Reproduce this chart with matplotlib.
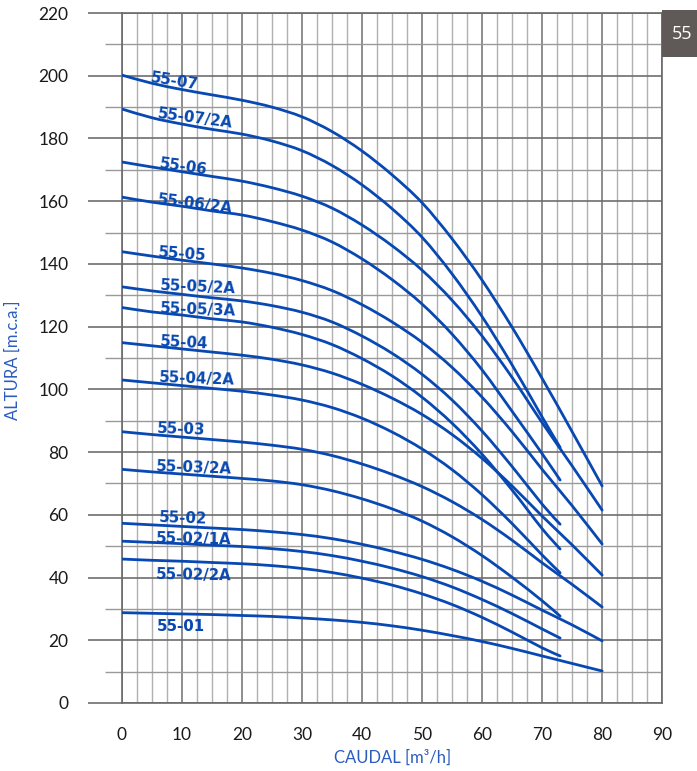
import matplotlib
matplotlib.use("Agg")
import matplotlib.pyplot as plt
import numpy as np
from matplotlib.patches import Rectangle, PathPatch
from matplotlib.path import Path

# caudal points (m3/h)
q_full = [0, 5, 10, 15, 20, 25, 30, 35, 40, 45, 50, 55, 60, 65, 70, 75, 80]
q_short = [0, 5, 10, 15, 20, 25, 30, 35, 40, 45, 50, 55, 60, 65, 70, 73]

# altura (m.c.a.) per model
h_07 = [200.2, 197.6, 195.6, 193.9, 192.2, 190.0, 186.9, 182.2, 176.0, 168.4, 159.5, 148.0, 134.8, 119.8, 103.5, 86.5, 69.2]
h_07_2a = [189.4, 186.6, 184.6, 182.9, 181.4, 179.2, 176.1, 171.4, 165.2, 157.6, 148.5, 136.8, 123.2, 107.8, 91.2, 81.5]
h_06 = [172.5, 170.9, 169.4, 167.9, 166.4, 164.3, 161.6, 157.8, 152.4, 145.8, 138.0, 128.4, 117.0, 103.8, 89.4, 75.6, 61.5]
h_06_2a = [161.3, 159.7, 158.4, 156.9, 155.6, 153.5, 150.8, 147.0, 141.6, 135.0, 127.2, 117.6, 106.2, 93.0, 79.5, 71.1]
h_05 = [143.9, 142.5, 141.2, 140.0, 138.7, 137.0, 134.7, 131.5, 127.0, 121.5, 115.0, 107.0, 97.5, 86.5, 74.5, 62.9, 50.7]
h_05_2a = [132.7, 131.4, 130.3, 129.2, 128.2, 126.7, 124.6, 121.5, 117.0, 111.5, 104.8, 96.6, 86.7, 75.4, 63.4, 57.0]
h_05_3a = [126.1, 124.7, 123.7, 122.5, 121.5, 119.8, 117.5, 114.3, 109.8, 104.3, 97.5, 89.2, 79.3, 67.9, 55.6, 49.1]
h_04 = [114.9, 113.9, 112.9, 111.9, 110.9, 109.6, 107.8, 105.2, 101.6, 97.2, 92.0, 85.6, 78.0, 69.2, 59.6, 50.4, 40.8]
h_04_2a = [103.0, 102.1, 101.2, 100.3, 99.4, 98.2, 96.6, 94.2, 90.8, 86.4, 81.0, 74.4, 66.4, 57.2, 47.2, 41.5]
h_03 = [86.5, 85.6, 84.8, 84.0, 83.2, 82.2, 80.9, 78.9, 76.2, 72.9, 69.0, 64.2, 58.5, 51.9, 44.7, 37.8, 30.6]
h_03_2a = [74.5, 73.7, 73.0, 72.3, 71.6, 70.8, 69.6, 67.7, 65.1, 61.9, 58.0, 53.0, 47.0, 40.1, 32.6, 27.7]
h_02 = [57.3, 56.8, 56.3, 55.8, 55.3, 54.6, 53.7, 52.4, 50.6, 48.4, 45.8, 42.6, 38.8, 34.4, 29.6, 24.9, 19.8]
h_02_1a = [51.6, 51.2, 50.8, 50.3, 49.9, 49.2, 48.3, 47.0, 45.2, 43.0, 40.3, 37.0, 33.0, 28.5, 23.6, 20.7]
h_02_2a = [45.9, 45.5, 45.2, 44.8, 44.4, 43.8, 42.9, 41.6, 39.8, 37.6, 34.8, 31.4, 27.3, 22.6, 17.6, 15.0]
h_01 = [28.8, 28.6, 28.4, 28.2, 27.9, 27.6, 27.1, 26.5, 25.7, 24.6, 23.2, 21.5, 19.6, 17.4, 15.0, 12.6, 10.2]

curves = [
    ("55-07", q_full, h_07), ("55-07/2A", q_short, h_07_2a),
    ("55-06", q_full, h_06), ("55-06/2A", q_short, h_06_2a),
    ("55-05", q_full, h_05), ("55-05/2A", q_short, h_05_2a), ("55-05/3A", q_short, h_05_3a),
    ("55-04", q_full, h_04), ("55-04/2A", q_short, h_04_2a),
    ("55-03", q_full, h_03), ("55-03/2A", q_short, h_03_2a),
    ("55-02", q_full, h_02), ("55-02/1A", q_short, h_02_1a), ("55-02/2A", q_short, h_02_2a),
    ("55-01", q_full, h_01),
]

# label anchor (caudal, altura, angle)
label_pos = {
    "55-07": (8.8, 198.3, -9), "55-07/2A": (12.1, 186.5, -7.5),
    "55-06": (10.2, 170.8, -8), "55-06/2A": (12.1, 159.0, -7),
    "55-05": (10.1, 143.0, -4), "55-05/2A": (12.6, 132.5, -2.5), "55-05/3A": (12.6, 125.3, -2),
    "55-04": (10.4, 114.9, -3), "55-04/2A": (12.4, 103.4, -2),
    "55-03": (9.9, 87.3, -2), "55-03/2A": (12.0, 75.0, -2),
    "55-02": (10.2, 58.9, -2), "55-02/1A": (11.9, 52.3, -1), "55-02/2A": (11.9, 40.8, -1),
    "55-01": (9.8, 24.3, 0),
}

blue = '#0848b2'
label_blue = '#2a5cc0'


def smooth_path(q, h):
    # catmull-rom through the read points, drawn as bezier segments
    p = np.column_stack([q, h]).astype(float)
    n = len(p)
    verts = [p[0]]
    codes = [Path.MOVETO]
    for i in range(n - 1):
        p0 = p[i - 1] if i > 0 else p[i]
        p1, p2 = p[i], p[i + 1]
        p3 = p[i + 2] if i + 2 < n else p[i + 1]
        verts += [p1 + (p2 - p0) / 6, p2 - (p3 - p1) / 6, p2]
        codes += [Path.CURVE4] * 3
    return Path(verts, codes)


fig = plt.figure(figsize=(6.97, 7.71), dpi=100)
ax = fig.add_axes([0.175, 0.0882, 0.775, 0.8949])

for name, q, h in curves:
    ax.add_patch(PathPatch(smooth_path(q, h), facecolor='none', edgecolor=blue,
                           lw=2.0, zorder=3, capstyle='round'))
    lx, ly, rot = label_pos[name]
    ax.text(lx, ly, name, color=blue, fontsize=10.8, fontfamily='DejaVu Sans',
            fontweight='bold', ha='center', va='center', rotation=rot,
            rotation_mode='anchor', zorder=4)

ax.set_xlim(0, 90)
ax.set_ylim(0, 220)
ax.set_xticks(range(0, 91, 10))
ax.set_xticks([x * 2.5 for x in range(37)], minor=True)
ax.set_yticks(range(0, 221, 20))
ax.set_yticks(range(10, 220, 20), minor=True)

ax.grid(which='major', axis='x', color='#7a7a7a', lw=1.2)
ax.grid(which='minor', axis='x', color='#b0b0b0', lw=1.0)
ax.grid(which='major', axis='y', color='#6e6e6e', lw=1.2)
ax.grid(which='minor', axis='y', color='#9a9a9a', lw=1.0)
ax.set_axisbelow(True)

ax.tick_params(axis='x', which='both', length=0, pad=17, labelsize=12.5, labelcolor='#1a1a1a')
ax.tick_params(axis='y', which='major', length=24.5, width=1.2, color='#6e6e6e',
               pad=14, labelsize=12.5, labelcolor='#1a1a1a')
ax.tick_params(axis='y', which='minor', length=12.5, width=1.0, color='#9a9a9a')
for lab in ax.get_xticklabels() + ax.get_yticklabels():
    lab.set_fontfamily('Lato')

for s in ax.spines.values():
    s.set_color('#6a6a6a')
    s.set_linewidth(1.2)

ax.set_xlabel('CAUDAL [m³/h]', color=label_blue, fontsize=12, fontfamily='Lato', labelpad=5)
fig.text(0.018, 0.533, 'ALTURA [m.c.a.]', color=label_blue, fontsize=12, fontfamily='Lato',
         rotation=90, ha='center', va='center')

fig.patches.append(Rectangle((0.9498, 0.926), 0.06, 0.061, transform=fig.transFigure,
                             facecolor='#5f5a58', edgecolor='none'))
fig.text(0.978, 0.956, '55', color='white', fontsize=13, fontfamily='Open Sans',
         ha='center', va='center')

fig.savefig('out.png', dpi=100)
